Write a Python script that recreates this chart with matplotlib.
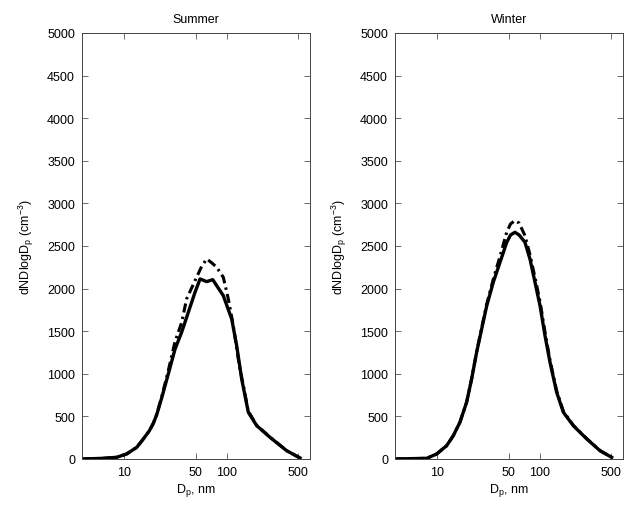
"""
Particle number size distributions, summer vs. winter.
Two log-x panels with a solid and a dash-dot curve each.
"""

import matplotlib

matplotlib.use("Agg")
import matplotlib.pyplot as plt
from matplotlib.ticker import FixedLocator, FixedFormatter, NullLocator

plt.rcParams["font.family"] = ["Liberation Sans", "DejaVu Sans"]
plt.rcParams["font.size"] = 9
plt.rcParams["mathtext.fontset"] = "custom"
plt.rcParams["mathtext.rm"] = "Liberation Sans"
plt.rcParams["mathtext.it"] = "Liberation Sans"

# ---- data ----
titles = ["Summer", "Winter"]

summer_dp = [3.84, 6.2, 8.4, 10.5, 13.2, 15.3, 17.5, 19.2, 20.7, 23.2, 26.9,
             31.3, 36.3, 42.2, 49.1, 55.0, 63.9, 73.2, 92.9, 112.2, 125.6,
             140.6, 163.3, 197.3, 266, 388, 524]
summer_solid = [0, 8, 20, 59, 137, 235, 330, 420, 520, 720, 1000,
                1291, 1487, 1722, 1957, 2113, 2082, 2105, 1917, 1644, 1330,
                939, 548, 391, 255, 97, 12]

summer_dd_dp = [3.84, 6.2, 8.4, 10.5, 13.2, 15.3, 17.5, 19.2, 20.7, 23.2,
                26.9, 31.3, 36.3, 40.6, 49.1, 57.0, 63.9, 72.0, 80.0, 92.9,
                104, 116.4, 133, 145, 163.3, 197.3, 266, 388, 524]
summer_dashdot = [0, 8, 20, 59, 137, 235, 330, 420, 525, 735,
                  1040, 1380, 1600, 1878, 2094, 2260, 2348, 2300, 2250, 2133,
                  1878, 1565, 1100, 880, 560, 395, 258, 98, 12]

winter_dp = [3.84, 7.85, 9.83, 12.3, 14.3, 16.6, 19.3, 21.6, 24.2, 27.1,
             30.4, 35.2, 41.0, 47.6, 52.0, 57.4, 63.0, 71.9, 80.5, 90.2,
             101, 113, 126.5, 147, 171, 214, 290, 391, 508]
winter_solid = [0, 8, 59, 156, 274, 431, 666, 939, 1253, 1526,
                1800, 2074, 2309, 2540, 2630, 2661, 2630, 2544, 2348, 2074,
                1800, 1448, 1135, 783, 548, 391, 235, 97, 20]
winter_dashdot = [0, 8, 59, 156, 274, 431, 666, 939, 1260, 1540,
                  1820, 2110, 2380, 2660, 2760, 2798, 2770, 2622, 2400, 2130,
                  1850, 1490, 1160, 800, 560, 395, 238, 98, 20]

x_ticks = [10, 50, 100, 500]
x_tick_labels = ["10", "50", "100", "500"]
y_ticks = [0, 500, 1000, 1500, 2000, 2500, 3000, 3500, 4000, 4500, 5000]

panels = [
    (summer_dp, summer_solid, summer_dd_dp, summer_dashdot),
    (winter_dp, winter_solid, winter_dp, winter_dashdot),
]

fig = plt.figure(figsize=(6.25, 5.06), dpi=100)
lefts = [82 / 625, 395 / 625]
width = 228 / 625
bottom = 1 - 460 / 506
height = (460 - 34) / 506

for left, title, (dp, solid, dd_dp, dashdot) in zip(lefts, titles, panels):
    ax = fig.add_axes([left, bottom, width, height])
    ax.plot(dd_dp, dashdot, color="black", linestyle=(0, (3, 1.4, 0.8, 1.4)),
            linewidth=2.2)
    ax.plot(dp, solid, color="black", linestyle="-", linewidth=2.4)

    ax.set_xscale("log")
    ax.set_xlim(3.84, 656)
    ax.set_ylim(0, 5000)
    ax.xaxis.set_major_locator(FixedLocator(x_ticks))
    ax.xaxis.set_major_formatter(FixedFormatter(x_tick_labels))
    ax.xaxis.set_minor_locator(NullLocator())
    ax.set_yticks(y_ticks)

    ax.tick_params(direction="in", top=True, right=True, length=4,
                   width=0.6, color="#555555", labelsize=9, pad=5)
    for spine in ax.spines.values():
        spine.set_linewidth(0.7)
        spine.set_color("#444444")

    ax.set_title(title, fontsize=9, pad=8)
    ax.set_xlabel(r"D$_\mathregular{p}$, nm", fontsize=9, labelpad=2)
    ax.set_ylabel(r"dNDlogD$_\mathregular{p}$ (cm$^\mathregular{-3}$)",
                  fontsize=9, labelpad=8)

fig.savefig("out.png", dpi=100)
